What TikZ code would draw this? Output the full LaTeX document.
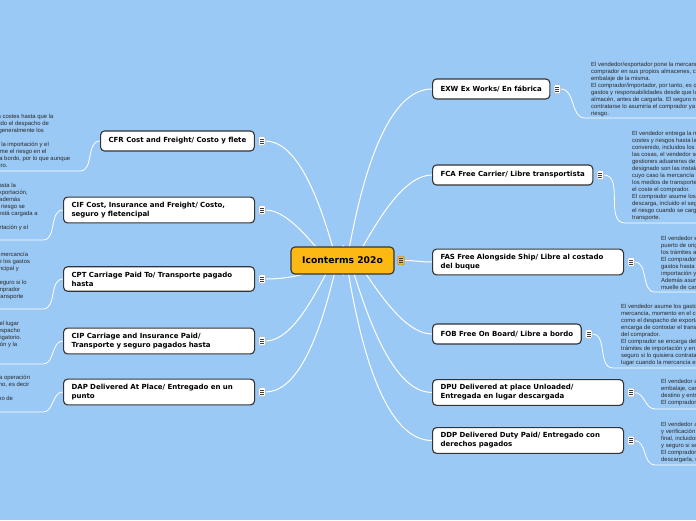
\documentclass[tikz,border=0pt]{standalone}
\usepackage{fontspec}
\setmainfont{Liberation Sans}
\newfontfamily\titlefont{DejaVu Sans}
\usetikzlibrary{positioning,backgrounds}

\definecolor{mapbg}{RGB}{155,201,245}
\definecolor{rootfill}{RGB}{252,185,19}
\definecolor{edgegray}{RGB}{51,51,51}
\definecolor{notegray}{RGB}{40,40,40}
\newcommand{\notefont}{\fontsize{5.9}{7}\selectfont}

\begin{document}
\begin{tikzpicture}[x=1pt,y=-1pt,
  root/.style={rectangle,rounded corners=4pt,draw=edgegray,line width=1.1pt,fill=rootfill,
               minimum width=103pt,minimum height=27pt,
               font=\titlefont\bfseries\fontsize{9.2}{11}\selectfont},
  term/.style={rectangle,rounded corners=4pt,draw=edgegray,line width=1.1pt,fill=white,
               inner xsep=8pt,inner ysep=5pt,minimum height=20pt,align=left,anchor=west,
               font=\titlefont\bfseries\fontsize{7}{9}\selectfont},
  wide/.style={term,text width=175pt},
  menu/.style={rectangle,draw=gray!60,fill=white,rounded corners=1pt,line width=0.4pt,
               minimum width=6.5pt,minimum height=8.5pt,inner sep=0pt,
               path picture={\foreach \k in {-2,0,2}
                 \draw[black!75,line width=0.7pt]
                   ([xshift=-2pt,yshift=\k pt]path picture bounding box.center) -- ++(4pt,0pt);}},
  note/.style={anchor=north west,inner sep=0pt,align=left,text=notegray,font=\notefont},
  link/.style={white,line width=1pt}
]
  \useasboundingbox (0,0) rectangle (696,520);
  \clip (0,0) rectangle (696,520);

  % ---------- nodo central ----------
  \node[root] (ico) at (342.5,260.5) {Iconterms 202o};
  \node[menu,fill=rootfill,draw=rootfill!75!black,right=3pt of ico] (icom) {};

  % ---------- terminos (izquierda) ----------
  \node[term] (cfr) at (100,141) {CFR Cost and Freight/ Costo y flete};
  \node[wide] (cif) at (63,210)  {CIF Cost, Insurance and Freight/ Costo,\\seguro y fletencipal};
  \node[wide] (cpt) at (63,279)  {CPT Carriage Paid To/ Transporte pagado\\hasta};
  \node[wide] (cip) at (63,341)  {CIP Carriage and Insurance Paid/\\Transporte y seguro pagados hasta};
  \node[wide] (dap) at (63,392)  {DAP Delivered At Place/ Entregado en un\\punto};

  % ---------- terminos (derecha) ----------
  \node[term] (exw) at (432,89)    {EXW Ex Works/ En fábrica};
  \node[term] (fca) at (432,175)   {FCA Free Carrier/ Libre transportista};
  \node[wide] (fas) at (432,262)   {FAS Free Alongside Ship/ Libre al costado\\del buque};
  \node[term] (fob) at (432,334)   {FOB Free On Board/ Libre a bordo};
  \node[wide] (dpu) at (432,392.5) {DPU Delivered at place Unloaded/\\Entregada en lugar descargada};
  \node[wide] (ddp) at (432,440.5) {DDP Delivered Duty Paid/ Entregado con\\derechos pagados};

  \foreach \n in {cfr,cif,cpt,cip,dap,exw,fca,fas,fob,dpu,ddp}
    \node[menu,right=3.5pt of \n] (\n m) {};

  % ---------- notas (izquierda, cortadas por el borde) ----------
  \node[note] (cfrt) at (-95,114) {El vendedor se encarga de todos los costes hasta que la\\
    mercancía llega al puerto final, incluido el despacho de\\
    exportación, el transporte, el flete y generalmente los\\
    gastos de descarga.\\
    El comprador solo se hace cargo de la importación y el\\
    seguro, por lo que el comprador asume el riesgo en el\\
    momento en que la mercancía está a bordo, por lo que aunque\\
    lo paga el vendedor, pero no el seguro.};
  \node[note] (cift) at (-120,183) {El vendedor se hace cargo de todo el coste hasta la\\
    mercancía en destino, incluido el trámite de exportación,\\
    el flete principal y contrata un seguro mínimo además\\
    de los gastos de carga inicial. No obstante, el riesgo se\\
    transmite al comprador cuando la mercancía está cargada a\\
    bordo.\\
    El comprador se encarga de trámites de importación y el\\
    desembarque.};
  \node[note] (cptt) at (-122,252) {El vendedor paga el transporte a destino de la mercancía\\
    y se encarga del despacho de exportación y de los gastos\\
    de carga en origen así como del transporte principal y\\
    de descarga.\\
    El comprador asume toda la importación y el seguro si lo\\
    quisiera contratar. El riesgo se transmite al comprador\\
    desde que la mercancía se entrega al primer transporte\\
    contratado.};
  \node[note] (cipt) at (-123,321) {El vendedor paga el coste de transporte hasta el lugar\\
    de destino convenido, incluido el seguro y el despacho\\
    de exportación. El seguro, en este caso, es obligatorio.\\
    El comprador asume los gastos de la importación y la\\
    descarga. El riesgo pasa al comprador tras la\\
    entrega.};
  \node[note] (dapt) at (-120,375) {El vendedor asume todos los costes de toda la operación\\
    hasta que la mercancía llega al lugar de destino, es decir\\
    sin descargar.\\
    El comprador asume la descarga y el despacho de\\
    importación.};

  % ---------- notas (derecha, cortadas por el borde) ----------
  \node[note] (exwt) at (591,61.5) {El vendedor/exportador pone la mercancía a disposición del\\
    comprador en sus propios almacenes, con el\\
    embalaje de la misma.\\
    El comprador/importador, por tanto, es quien asume todos los\\
    gastos y responsabilidades desde que la mercancía sale del\\
    almacén, antes de cargarla. El seguro no es obligatorio y de\\
    contratarse lo asumiría el comprador ya que asume el\\
    riesgo.};
  \node[note] (fcat) at (632,130.5) {El vendedor entrega la mercancía, asumiendo los\\
    costes y riesgos hasta la entrega en el lugar\\
    convenido, incluidos los trámites aduaneros. En\\
    las cosas, el vendedor se encarga de las\\
    gestiones aduaneras de exportación. Si el lugar\\
    designado son las instalaciones del vendedor, en\\
    cuyo caso la mercancía se carga por el vendedor en\\
    los medios de transporte del comprador, asumiendo\\
    el coste el comprador.\\
    El comprador asume los costes de transporte y\\
    descarga, incluido el seguro, y asume\\
    el riesgo cuando se carga en el medio de\\
    transporte.};
  \node[note] (fast) at (661,235.5) {El vendedor entrega la mercancía en el\\
    puerto de origen, al costado del buque, con\\
    los trámites aduaneros de exportación.\\
    El comprador asume los\\
    gastos hasta el destino, incluidos la\\
    importación y el seguro.\\
    Además asume el riesgo desde el\\
    muelle de carga.};
  \node[note] (fobt) at (621,304.5) {El vendedor asume los gastos hasta que la\\
    mercancía, momento en el cual está a bordo, así\\
    como el despacho de exportación. El vendedor se\\
    encarga de contratar el transporte por cuenta\\
    del comprador.\\
    El comprador se encarga del flete, los\\
    trámites de importación y en destino, y del\\
    seguro si lo quisiera contratar. El riesgo tiene\\
    lugar cuando la mercancía está a bordo.};
  \node[note] (dput) at (661,379.5) {El vendedor asume los costes de\\
    embalaje, carga, transporte hasta el\\
    destino y entrega descargada.\\
    El comprador asume la importación.};
  \node[note] (ddpt) at (661,422.5) {El vendedor asume todos los costes\\
    y verificación de la mercancía hasta el destino\\
    final, incluidos los trámites de importación\\
    y seguro si se quisiera contratar.\\
    El comprador asume el coste de\\
    descargarla, una vez entregada.};

  % arranque de los subrayados de las notas
  \coordinate (cfrl) at (80,171);
  \coordinate (cifl) at (43,240);
  \coordinate (cptl) at (43,309);
  \coordinate (cipl) at (43,364);
  \coordinate (dapl) at (43,412);
  \coordinate (exwl) at (585,118);
  \coordinate (fcal) at (625,223);
  \coordinate (fasl) at (655,292);
  \coordinate (fobl) at (613,368);
  \coordinate (dpul) at (655,409);
  \coordinate (ddpl) at (655,465);

  % ---------- conectores ----------
  \begin{scope}[on background layer]
    \fill[mapbg] (0,0) rectangle (696,520);
    \clip (0,0) rectangle (696,520);

    % (y invertida: out=-90 sube, out=90 baja)
    \foreach \n in {cfr,cif}
      \draw[link] (ico.center) to[out=-90,in=0] (\n m.east);
    \draw[link] (ico.center) to[out=200,in=0] (cptm.east);
    \foreach \n in {cip,dap}
      \draw[link] (ico.center) to[out=90,in=0] (\n m.east);
    \foreach \n in {exw,fca}
      \draw[link] (ico.center) to[out=-90,in=180] (\n.west);
    \draw[link] (icom.east) to[out=0,in=180] (fas.west);
    \foreach \n in {fob,dpu,ddp}
      \draw[link] (ico.center) to[out=90,in=180] (\n.west);

    % hacia las notas
    \foreach \n in {cfr,cif,cpt,cip,dap}
      \draw[link,line width=0.8pt] (\n.west) to[out=180,in=0] (\n l) -- ++(-90,0);
    \foreach \n in {exw,fca,fas,fob,dpu,ddp}
      \draw[link,line width=0.8pt] (\n m.east) to[out=0,in=180] (\n l) -- ++(120,0);
  \end{scope}
\end{tikzpicture}
\end{document}
